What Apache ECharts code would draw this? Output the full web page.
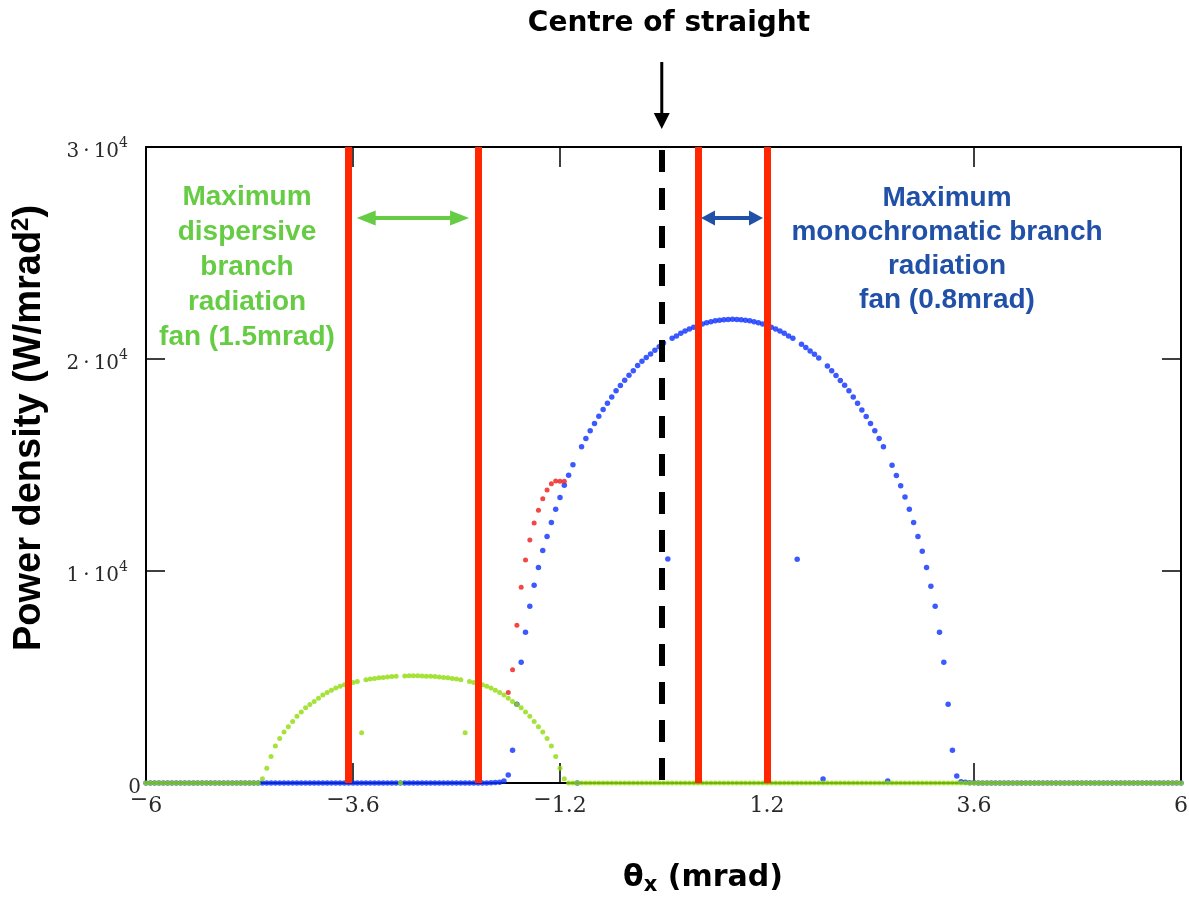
<!DOCTYPE html>
<html>
<head>
<meta charset="utf-8">
<script src="https://cdn.jsdelivr.net/npm/echarts@6/dist/echarts.min.js"></script>
<style>
  html, body { margin: 0; padding: 0; background: #ffffff; }
  #chart { width: 1189px; height: 897px; }
</style>
</head>
<body>
<div id="chart"></div>
<script>
// θx scan: first sample and sampling interval (mrad)
const thetaStart = -6;
const thetaStep = 0.05;

// Power density of the monochromatic branch (W/mrad^2), one row per 0.5 mrad
const monoBranch = [
  0, 0, 0, 0, 0, 0, 0, 0, 0, 0,                                           // -6.00 .. -5.55
  0, 0, 0, 0, 0, 0, 0, 0, 0, 0,                                           // -5.50 .. -5.05
  0, 0, 0, 0, 0, 0, 0, 0, 0, 0,                                           // -5.00 .. -4.55
  0, 0, 0, 0, 0, 0, 0, 0, 0, 0,                                           // -4.50 .. -4.05
  0, 0, 0, 0, 0, 0, 0, 0, 0, 0,                                           // -4.00 .. -3.55
  0, 0, 0, 0, 0, 0, 0, 0, 0, 0,                                           // -3.50 .. -3.05
  0, 0, 0, 0, 0, 0, 0, 0, 0, 0,                                           // -3.00 .. -2.55
  0, 0, 0, 0, 0, 0, 0, 0, 0, 5,                                           // -2.50 .. -2.05
  10, 20, 40, 90, 380, 1550, 3720, 5700, 7110, 8340,                      // -2.00 .. -1.55
  9330, 10170, 10970, 11630, 12290, 12910, 13470, 14040, 14520, 15010,    // -1.50 .. -1.05
  0, 15860, 16250, 16610, 16960, 17300, 17620, 17910, 18210, 18500,       // -1.00 .. -0.55
  18750, 19000, 19230, 19450, 19690, 19890, 20070, 20240, 20410, 20580,   // -0.50 .. -0.05
  20750, 10570, 20980, 21090, 21210, 21320, 21410, 21500, 21580, 21650,   //  0.00 ..  0.45
  21710, 21760, 21800, 21830, 21850, 21860, 21870, 21860, 21850, 21830,   //  0.50 ..  0.95
  21800, 21760, 21710, 21650, 21580, 21500, 21410, 21320, 21210, 21090,   //  1.00 ..  1.45
  20980, 10550, 20690, 20540, 20380, 20220, 20050, 190, 19670, 19450,     //  1.50 ..  1.95
  19220, 18980, 18760, 18500, 18210, 17910, 17600, 17290, 16960, 16610,   //  2.00 ..  2.45
  16250, 15860, 100, 14990, 14510, 14020, 13490, 12910, 12290, 11630,     //  2.50 ..  2.95
  10930, 10170, 9280, 8340, 7110, 5700, 3720, 1550, 330, 60,              //  3.00 ..  3.45
  30, 15, 10, 0, 0, 0, 0, 0, 0, 0,                                        //  3.50 ..  3.95
  0, 0, 0, 0, 0, 0, 0, 0, 0, 0,                                           //  4.00 ..  4.45
  0, 0, 0, 0, 0, 0, 0, 0, 0, 0,                                           //  4.50 ..  4.95
  0, 0, 0, 0, 0, 0, 0, 0, 0, 0,                                           //  5.00 ..  5.45
  0, 0, 0, 0, 0, 0, 0, 0, 0, 0,                                           //  5.50 ..  5.95
  0                                                                       //  6.00
];

// Power density of the dispersive branch (W/mrad^2), same sampling
const dispBranch = [
  0, 0, 0, 0, 0, 0, 0, 0, 0, 0,                                           // -6.00 .. -5.55
  0, 0, 0, 0, 0, 0, 0, 0, 0, 0,                                           // -5.50 .. -5.05
  0, 0, 0, 0, 0, 0, 0, 200, 700, 1250,                                    // -5.00 .. -4.55
  1750, 2100, 2400, 2650, 2900, 3150, 3350, 3550, 3700, 3850,             // -4.50 .. -4.05
  4000, 4150, 4270, 4380, 4480, 4560, 4630, 4690, 4740, 4790,             // -4.00 .. -3.55
  2370, 4870, 4900, 4930, 4960, 4980, 5000, 5020, 5030, 0,                // -3.50 .. -3.05
  5050, 5060, 5060, 5060, 5050, 5040, 5030, 5020, 5000, 4980,             // -3.00 .. -2.55
  4960, 4930, 4900, 4870, 2370, 4790, 4740, 4690, 4630, 4560,             // -2.50 .. -2.05
  4480, 4380, 4270, 4150, 4000, 3850, 3700, 3550, 3350, 3150,             // -2.00 .. -1.55
  2900, 2650, 2400, 2100, 1750, 1250, 700, 200, 0, 0,                     // -1.50 .. -1.05
  0, 0, 0, 0, 0, 0, 0, 0, 0, 0,                                           // -1.00 .. -0.55
  0, 0, 0, 0, 0, 0, 0, 0, 0, 0,                                           // -0.50 .. -0.05
  0, 0, 0, 0, 0, 0, 0, 0, 0, 0,                                           //  0.00 ..  0.45
  0, 0, 0, 0, 0, 0, 0, 0, 0, 0,                                           //  0.50 ..  0.95
  0, 0, 0, 0, 0, 0, 0, 0, 0, 0,                                           //  1.00 ..  1.45
  0, 0, 0, 0, 0, 0, 0, 0, 0, 0,                                           //  1.50 ..  1.95
  0, 0, 0, 0, 0, 0, 0, 0, 0, 0,                                           //  2.00 ..  2.45
  0, 0, 0, 0, 0, 0, 0, 0, 0, 0,                                           //  2.50 ..  2.95
  0, 0, 0, 0, 0, 0, 0, 0, 0, 0,                                           //  3.00 ..  3.45
  0, 0, 0, 0, 0, 0, 0, 0, 0, 0,                                           //  3.50 ..  3.95
  0, 0, 0, 0, 0, 0, 0, 0, 0, 0,                                           //  4.00 ..  4.45
  0, 0, 0, 0, 0, 0, 0, 0, 0, 0,                                           //  4.50 ..  4.95
  0, 0, 0, 0, 0, 0, 0, 0, 0, 0,                                           //  5.00 ..  5.45
  0, 0, 0, 0, 0, 0, 0, 0, 0, 0,                                           //  5.50 ..  5.95
  0                                                                       //  6.00
];

// Rising edge traced separately (W/mrad^2), starting at θx = -1.80 mrad
const edgeStart = -1.8;
const monoEdge = [4270, 5340, 7440, 9230, 10520, 11460, 12260, 12860, 13410, 13820, 14120, 14240, 14230, 14230];

// Fan limits (mrad) and the straight-section centre
const fanDispersive = [-3.65, -2.15];
const fanMono = [0.4, 1.2];
const straightCentre = -0.02;

// Axis ticks
const xTicks = [-6, -3.6, -1.2, 1.2, 3.6, 6];
const yTicks = [0, 10000, 20000, 30000];

function toPairs(start, values) {
  return values.map((v, i) => [+(start + i * thetaStep).toFixed(2), v]);
}

const chart = echarts.init(document.getElementById('chart'), null, { renderer: 'canvas' });

const serif = 'DejaVu Serif';
const tickColor = '#2a2a2a';

function xLabel(v) {
  const a = Math.abs(v);
  const s = Number.isInteger(a) ? String(a) : a.toFixed(1);
  return v < 0 ? '{m|\u2212}{n|' + s + '}' : '{n|' + s + '}';
}
function yLabel(v) {
  if (v === 0) return '{n|0}';
  return '{n|' + Math.round(v / 10000) + '\u2009\u00b7\u200910}{s|4}';
}

const frameLine = { show: true, onZero: false, lineStyle: { color: '#000', width: 2 } };
const tickStyle = { color: '#000', width: 1.5 };

chart.setOption({
  animation: false,
  backgroundColor: '#ffffff',
  grid: { left: 146, right: 8, top: 147, bottom: 114, containLabel: false, outerBoundsMode: 'none' },
  xAxis: [
    {
      type: 'value', min: -6, max: 6, position: 'bottom',
      axisLine: frameLine,
      splitLine: { show: false },
      axisTick: { show: true, inside: true, length: 20, lineStyle: tickStyle, customValues: xTicks },
      axisLabel: {
        show: true, customValues: xTicks, margin: 13, formatter: xLabel,
        rich: {
          n: { fontFamily: serif, fontSize: 22, color: tickColor, lineHeight: 20, padding: [6, 0, 6, 0] },
          m: { fontFamily: serif, fontSize: 22, color: tickColor, lineHeight: 20, padding: [0, 0, 12, 0] }
        }
      }
    },
    {
      type: 'value', min: -6, max: 6, position: 'top',
      axisLine: frameLine,
      splitLine: { show: false },
      axisTick: { show: true, inside: true, length: 20, lineStyle: tickStyle, customValues: xTicks },
      axisLabel: { show: false }
    }
  ],
  yAxis: [
    {
      type: 'value', min: 0, max: 30000, interval: 10000, position: 'left',
      axisLine: frameLine,
      splitLine: { show: false },
      axisTick: { show: true, inside: true, length: 19, lineStyle: tickStyle },
      axisLabel: {
        show: true, margin: 5, formatter: yLabel, padding: [10, 0, 0, 0],
        rich: {
          n: { fontFamily: serif, fontSize: 20, color: tickColor, lineHeight: 20 },
          s: { fontFamily: serif, fontSize: 14, color: tickColor, lineHeight: 14, padding: [0, 13, 18, 0] }
        }
      }
    },
    {
      type: 'value', min: 0, max: 30000, interval: 10000, position: 'right',
      axisLine: frameLine,
      splitLine: { show: false },
      axisTick: { show: true, inside: true, length: 19, lineStyle: tickStyle },
      axisLabel: { show: false }
    }
  ],
  series: [
    {
      name: 'Monochromatic branch', type: 'scatter', xAxisIndex: 0, yAxisIndex: 0,
      data: toPairs(thetaStart, monoBranch), symbol: 'circle', symbolSize: 5.5,
      itemStyle: { color: '#0a30ff' }, clip: false, silent: true, z: 2
    },
    {
      name: 'Edge', type: 'scatter', xAxisIndex: 0, yAxisIndex: 0,
      data: toPairs(edgeStart, monoEdge), symbol: 'circle', symbolSize: 5,
      itemStyle: { color: '#f01818' }, clip: false, silent: true, z: 3
    },
    {
      name: 'Dispersive branch', type: 'scatter', xAxisIndex: 0, yAxisIndex: 0,
      data: toPairs(thetaStart, dispBranch), symbol: 'circle', symbolSize: 5,
      itemStyle: { color: '#8fdc0a' }, clip: false, silent: true, z: 4
    },
    {
      name: 'Fan limits', type: 'line', xAxisIndex: 0, yAxisIndex: 0, data: [], silent: true, z: 5,
      markLine: {
        silent: true, symbol: ['none', 'none'], label: { show: false },
        lineStyle: { color: '#ff2600', width: 7, type: 'solid' },
        emphasis: { disabled: true },
        data: fanDispersive.concat(fanMono).map(v => ({ xAxis: v }))
      }
    },
    {
      name: 'Straight centre', type: 'line', xAxisIndex: 0, yAxisIndex: 0, data: [], silent: true, z: 6,
      markLine: {
        silent: true, symbol: ['none', 'none'], label: { show: false },
        lineStyle: { color: '#000000', width: 6, type: [22, 16], dashOffset: 35 },
        emphasis: { disabled: true },
        data: [{ xAxis: straightCentre }]
      }
    }
  ]
});

// Annotations: fan arrows, captions and axis titles
const toPx = (x, y) => chart.convertToPixel({ xAxisIndex: 0, yAxisIndex: 0 }, [x, y]);

function doubleArrow(x1, x2, y, color, head, half, width) {
  return [
    { type: 'line', shape: { x1: x1 + head - 2, y1: y, x2: x2 - head + 2, y2: y },
      style: { stroke: color, lineWidth: width }, silent: true, z: 20 },
    { type: 'polygon', shape: { points: [[x1, y], [x1 + head, y - half], [x1 + head, y + half]] },
      style: { fill: color }, silent: true, z: 20 },
    { type: 'polygon', shape: { points: [[x2, y], [x2 - head, y - half], [x2 - head, y + half]] },
      style: { fill: color }, silent: true, z: 20 }
  ];
}

const greenText = '#66cc44';
const blueText = '#2150a8';
const cx = toPx(straightCentre, 0)[0];
const g1 = toPx(fanDispersive[0], 0)[0], g2 = toPx(fanDispersive[1], 0)[0];
const b1 = toPx(fanMono[0], 0)[0], b2 = toPx(fanMono[1], 0)[0];

const elements = [
  {
    type: 'text', x: 669, y: 24, silent: true, z: 20,
    style: { text: 'Centre of straight', fontFamily: 'DejaVu Sans', fontWeight: 'bold', fontSize: 28,
             fill: '#000', align: 'center', verticalAlign: 'middle' }
  },
  { type: 'line', shape: { x1: cx, y1: 62, x2: cx, y2: 115 }, style: { stroke: '#000', lineWidth: 3 }, silent: true, z: 20 },
  { type: 'polygon', shape: { points: [[cx - 8, 113], [cx + 8, 113], [cx, 129]] }, style: { fill: '#000' }, silent: true, z: 20 },
  {
    type: 'text', x: 247, y: 180, silent: true, z: 20,
    style: { text: 'Maximum\ndispersive\nbranch\nradiation\nfan (1.5mrad)', fontFamily: 'Liberation Sans',
             fontWeight: 'bold', fontSize: 28, lineHeight: 35, fill: greenText, align: 'center', verticalAlign: 'top' }
  },
  {
    type: 'text', x: 947, y: 181, silent: true, z: 20,
    style: { text: 'Maximum\nmonochromatic branch\nradiation\nfan (0.8mrad)', fontFamily: 'Liberation Sans',
             fontWeight: 'bold', fontSize: 28, lineHeight: 34, fill: blueText, align: 'center', verticalAlign: 'top' }
  },
  {
    type: 'text', x: 703, y: 878, silent: true, z: 20,
    style: {
      text: '{t|\u03b8}{sub|x}{t| (mrad)}', align: 'center', verticalAlign: 'middle',
      rich: {
        t: { fontFamily: 'DejaVu Sans', fontWeight: 'bold', fontSize: 30, fill: '#000' },
        sub: { fontFamily: 'DejaVu Sans', fontWeight: 'bold', fontSize: 21, fill: '#000', padding: [16, 0, 0, 0] }
      }
    }
  },
  {
    type: 'text', x: 30, y: 428, rotation: Math.PI / 2, silent: true, z: 20,
    style: {
      text: '{t|Power density (W/mrad}{sup|2}{t|)}', align: 'center', verticalAlign: 'middle',
      rich: {
        t: { fontFamily: 'Liberation Sans', fontWeight: 'bold', fontSize: 38, fill: '#000' },
        sup: { fontFamily: 'Liberation Sans', fontWeight: 'bold', fontSize: 24, fill: '#000', padding: [0, 0, 17, 0] }
      }
    }
  }
].concat(
  doubleArrow(g1 + 8, g2 - 9, 218, greenText, 19, 7.5, 4),
  doubleArrow(b1 + 3, b2 - 4, 218, blueText, 14, 7.5, 4)
);

chart.setOption({ graphic: { elements: elements } });
</script>
</body>
</html>
